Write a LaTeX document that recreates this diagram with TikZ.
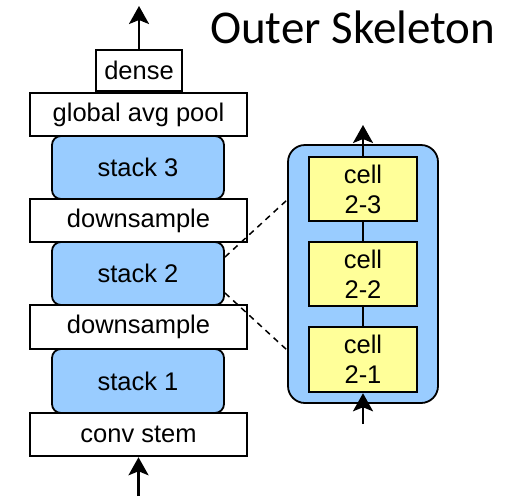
\documentclass[tikz,border=0pt]{standalone}
\usepackage{fontspec}
\setmainfont{Liberation Sans}
\newfontfamily\titlefont{Carlito}
\usetikzlibrary{arrows.meta,calc}
\definecolor{stackblue}{RGB}{153,204,255}
\definecolor{cellyellow}{RGB}{255,255,153}
\begin{document}
\begin{tikzpicture}[x=1pt,y=-1pt,
  every node/.style={font=\fontsize{25.5}{30}\selectfont, inner sep=0pt, align=center},
  layerbox/.style={draw=black, line width=2.5pt, fill=white, minimum width=217pt, minimum height=43pt},
  stackbox/.style={draw=black, line width=1.8pt, fill=stackblue, rounded corners=9pt, minimum width=172pt, minimum height=63pt},
  cellbox/.style={draw=black, line width=2.5pt, fill=cellyellow, minimum width=108pt, minimum height=64pt},
  flow/.style={line width=2.5pt, -{Stealth[length=18pt,width=20pt,inset=4pt]}},
  link/.style={line width=2.5pt},
  zoomline/.style={line width=1.5pt, dash pattern=on 6pt off 5pt}
]
\useasboundingbox (0,0) rectangle (521,496);
% title
\node[font=\titlefont\fontsize{47}{56}\selectfont, anchor=base west] (title) at (210,43) {Outer Skeleton};
% stacks (behind)
\node[stackbox] (stack3) at (138,167.5) {stack 3};
\node[stackbox] (stack2) at (138,273.5) {stack 2};
\node[stackbox, minimum height=64pt] (stack1) at (138,381) {stack 1};
% layer boxes
\node[layerbox, minimum width=86pt, minimum height=41pt] (dense) at (139,70.5) {dense};
\node[layerbox] (gap) at (138.5,114.5) {global avg pool};
\node[layerbox] (ds2) at (138.5,220.5) {downsample};
\node[layerbox, minimum height=44pt] (ds1) at (138.5,327) {downsample};
\node[layerbox] (stem) at (138.5,434.5) {conv stem};
% input/output arrows
\coordinate (in) at (138.5,496);
\coordinate (out) at (139,6);
\draw[flow] (in) -- (stem.south);
\draw[flow] (dense.north) -- (out);
% panel
\node[draw=black, line width=1.8pt, fill=stackblue, rounded corners=17pt, minimum width=150pt, minimum height=258pt] (panel) at (363,274) {};
\node[cellbox] (c23) at (363,189) {cell\\2-3};
\node[cellbox] (c22) at (363,274) {cell\\2-2};
\node[cellbox, minimum height=65pt] (c21) at (363,359.5) {cell\\2-1};
\draw[link] (c21.north) -- (c22.south);
\draw[link] (c22.north) -- (c23.south);
\coordinate (pin) at (363,424);
\coordinate (pout) at (363,125);
\draw[flow] (pin) -- (c21.south);
\draw[flow] (c23.north) -- (pout);
% zoom lines
\coordinate (s2a) at (225,257);
\coordinate (s2b) at (225,293);
\coordinate (pa) at (287,200);
\coordinate (pb) at (287,350);
\draw[zoomline] (s2a) -- (pa);
\draw[zoomline] (s2b) -- (pb);
\end{tikzpicture}
\end{document}
